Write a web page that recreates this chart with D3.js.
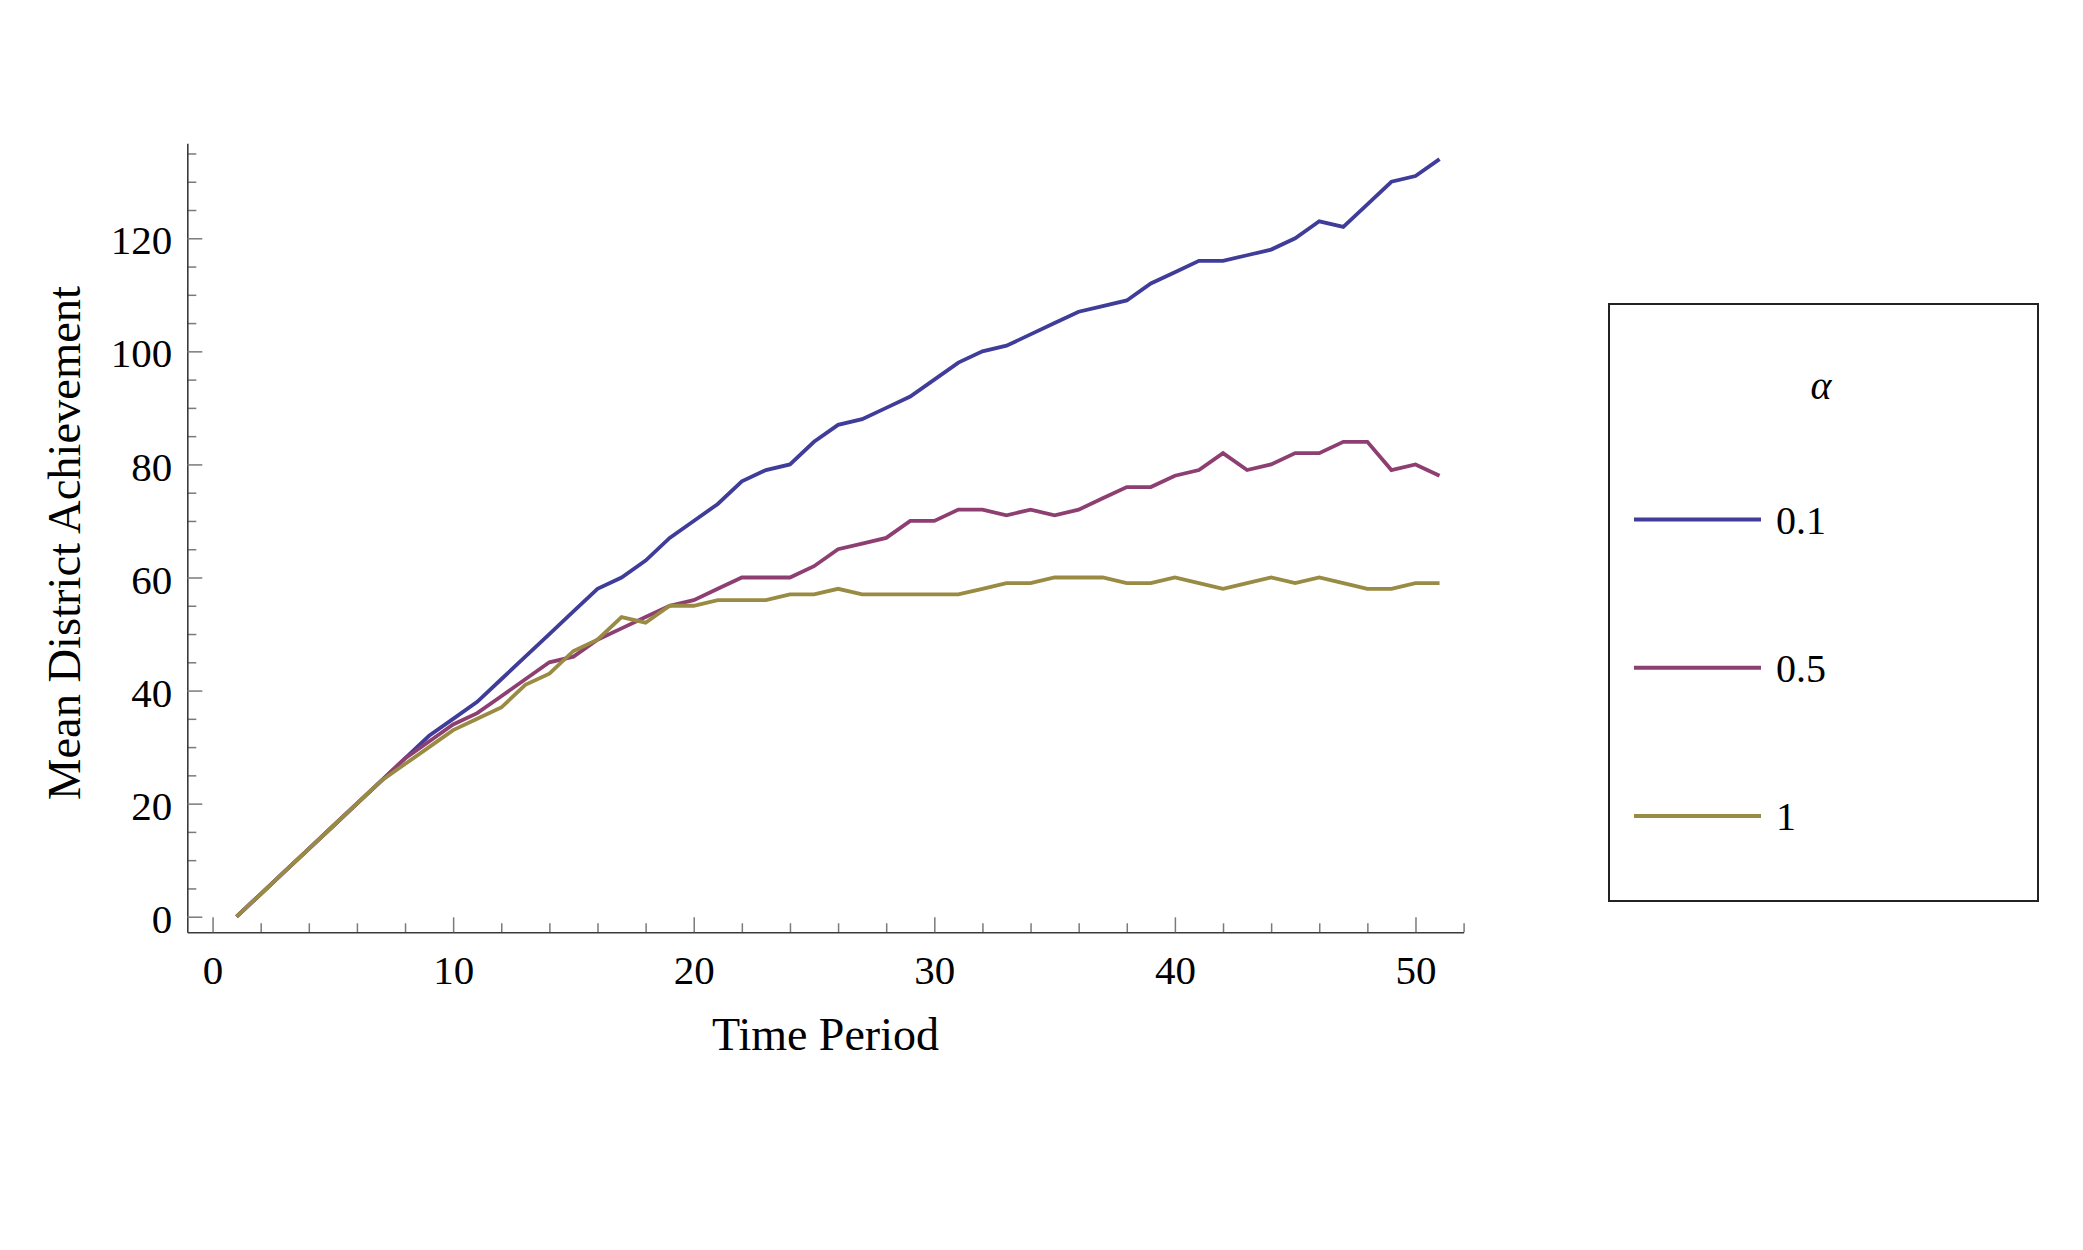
<!DOCTYPE html>
<html>
<head>
<meta charset="utf-8">
<script src="https://cdn.jsdelivr.net/npm/d3@7"></script>
<style>
  html, body { margin: 0; padding: 0; background: #fff; }
  svg { display: block; }
  text { font-family: "Liberation Serif", "Times New Roman", serif; fill: #000; }
</style>
</head>
<body>
<svg id="chart" width="2083" height="1250"></svg>
<script>
// ---- data ----
const timePeriods = d3.range(1, 52); // 1..51
const seriesLabels = ["0.1", "0.5", "1"];
const alpha01 = [0,4,8,12,16,20,24,28,32,35,38,42,46,50,54,58,60,63,67,70,73,77,79,80,84,87,88,90,92,95,98,100,101,103,105,107,108,109,112,114,116,116,117,118,120,123,122,126,130,131,134];
const alpha05 = [0,4,8,12,16,20,24,28,31,34,36,39,42,45,46,49,51,53,55,56,58,60,60,60,62,65,66,67,70,70,72,72,71,72,71,72,74,76,76,78,79,82,79,80,82,82,84,84,79,80,78];
const alpha1  = [0,4,8,12,16,20,24,27,30,33,35,37,41,43,47,49,53,52,55,55,56,56,56,57,57,58,57,57,57,57,57,58,59,59,60,60,60,59,59,60,59,58,59,60,59,60,59,58,58,59,59];
const seriesColors = ["#3f3d99", "#8e3f72", "#998b43"];
const xMajorTicks = [0, 10, 20, 30, 40, 50];
const xMinorTicks = d3.range(2, 53, 2).filter(v => v % 10 !== 0);
const yMajorTicks = [0, 20, 40, 60, 80, 100, 120];
const yMinorTicks = d3.range(5, 136, 5).filter(v => v % 20 !== 0);
const xTitle = "Time Period";
const yTitle = "Mean District Achievement";
const legendTitle = "α";

const seriesValues = [alpha01, alpha05, alpha1];

// ---- layout ----
const svg = d3.select("#chart");
const x = d3.scaleLinear().domain([-1.05, 52]).range([187.3, 1463.6]);
const y = d3.scaleLinear().domain([-2.76, 136.8]).range([932.3, 143.3]);

const axisColor = "#3a3a3a";
const tickColor = "#7a7a7a";

// minor ticks x
const gxMinor = svg.append("g").attr("transform", `translate(0,${y.range()[0]})`)
  .call(d3.axisBottom(x).tickValues(xMinorTicks).tickSizeInner(-9).tickSizeOuter(0).tickFormat(""));
gxMinor.select(".domain").remove();
gxMinor.selectAll(".tick line").attr("stroke", tickColor).attr("stroke-width", 1.5);

// major x axis
const gx = svg.append("g").attr("transform", `translate(0,${y.range()[0]})`)
  .call(d3.axisBottom(x).tickValues(xMajorTicks).tickSizeInner(-15).tickSizeOuter(0).tickPadding(23));
gx.select(".domain").attr("stroke", axisColor).attr("stroke-width", 1.6);
gx.selectAll(".tick line").attr("stroke", tickColor).attr("stroke-width", 1.5);
gx.selectAll(".tick text").attr("font-size", 41).attr("font-family", "Liberation Serif").attr("fill", "#000");

// minor ticks y
const gyMinor = svg.append("g").attr("transform", `translate(${x.range()[0]},0)`)
  .call(d3.axisLeft(y).tickValues(yMinorTicks).tickSizeInner(-9).tickSizeOuter(0).tickFormat(""));
gyMinor.select(".domain").remove();
gyMinor.selectAll(".tick line").attr("stroke", tickColor).attr("stroke-width", 1.5);

// major y axis
const gy = svg.append("g").attr("transform", `translate(${x.range()[0]},0)`)
  .call(d3.axisLeft(y).tickValues(yMajorTicks).tickSizeInner(-15).tickSizeOuter(0).tickPadding(15));
gy.select(".domain").attr("stroke", axisColor).attr("stroke-width", 1.6);
gy.selectAll(".tick line").attr("stroke", tickColor).attr("stroke-width", 1.5);
gy.selectAll(".tick text").attr("font-size", 41).attr("dy", "0.38em").attr("font-family", "Liberation Serif").attr("fill", "#000");

// axis titles
svg.append("text")
  .attr("x", (x.range()[0] + x.range()[1]) / 2).attr("y", 1050)
  .attr("text-anchor", "middle").attr("font-size", 46).text(xTitle);
svg.append("text")
  .attr("transform", `translate(80,543) rotate(-90)`)
  .attr("text-anchor", "middle").attr("font-size", 46.5).text(yTitle);

// lines
const line = d3.line().x((d, i) => x(timePeriods[i])).y(d => y(d));
seriesValues.forEach((vals, k) => {
  svg.append("path").datum(vals)
    .attr("fill", "none")
    .attr("stroke", seriesColors[k])
    .attr("stroke-width", 3.8)
    .attr("stroke-linejoin", "miter")
    .attr("d", line);
});

// legend
const lg = svg.append("g");
lg.append("rect").attr("x", 1609).attr("y", 304).attr("width", 429).attr("height", 597)
  .attr("fill", "#fff").attr("stroke", "#222").attr("stroke-width", 2);
lg.append("text").attr("x", 1821).attr("y", 387).attr("dy", "0.3em")
  .attr("text-anchor", "middle").attr("font-size", 40).attr("font-style", "italic").text(legendTitle);
const legendY = d3.scalePoint().domain(seriesLabels).range([519.5, 816]);
seriesLabels.forEach((lab, k) => {
  const yy = legendY(lab);
  lg.append("line").attr("x1", 1634).attr("x2", 1761).attr("y1", yy).attr("y2", yy)
    .attr("stroke", seriesColors[k]).attr("stroke-width", 3.8);
  lg.append("text").attr("x", 1776).attr("y", yy).attr("dy", "0.35em")
    .attr("font-size", 40).text(lab);
});
</script>
</body>
</html>
